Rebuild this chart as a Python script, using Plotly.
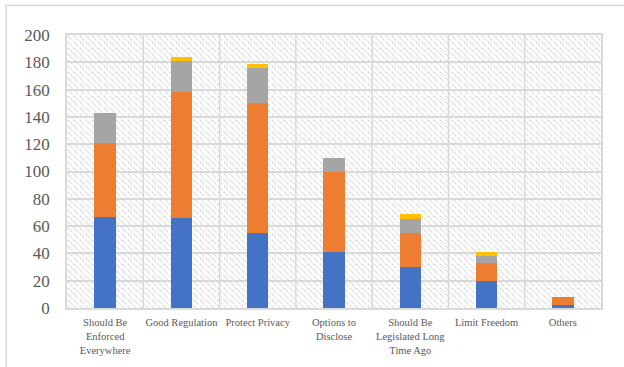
import base64
import plotly.graph_objects as go

categories = ["Should Be<br>Enforced<br>Everywhere", "Good Regulation", "Protect Privacy",
              "Options to<br>Disclose", "Should Be<br>Legislated Long<br>Time Ago",
              "Limit Freedom", "Others"]
series1 = [67, 66, 55, 41, 30, 20, 2]
series2 = [54, 92, 95, 59, 25, 13, 6]
series3 = [22, 23, 26, 10, 10, 5, 0]
series4 = [0, 3, 3, 0, 4, 3, 0]
series_names = ["Series1", "Series2", "Series3", "Series4"]
colors = ["#4472C4", "#ED7D31", "#A5A5A5", "#FFC000"]
y_ticks = [0, 20, 40, 60, 80, 100, 120, 140, 160, 180, 200]

svg = ('<svg xmlns="http://www.w3.org/2000/svg" width="534" height="273">'
       '<defs><pattern id="p" width="6" height="6" patternUnits="userSpaceOnUse">'
       '<path d="M-1,-1 L7,7 M-7,-1 L1,7 M5,-1 L13,7" stroke="#cccccc" stroke-width="1.2" stroke-dasharray="1.5,1"/>'
       '</pattern></defs><rect width="534" height="273" fill="white"/>'
       '<rect width="534" height="273" fill="url(#p)"/></svg>')
img_src = "data:image/svg+xml;base64," + base64.b64encode(svg.encode()).decode()

FONT = "Liberation Serif, Times New Roman, serif"

fig = go.Figure()
for name, vals, col in zip(series_names, [series1, series2, series3, series4], colors):
    fig.add_trace(go.Bar(x=categories, y=vals, name=name, marker=dict(color=col, line=dict(width=0))))

fig.update_layout(
    barmode="stack",
    bargap=0.72,
    width=624, height=367,
    margin=dict(l=67, r=23, t=35, b=59),
    paper_bgcolor="white",
    plot_bgcolor="rgba(0,0,0,0)",
    showlegend=False,
    font=dict(family=FONT, color="#595959"),
    images=[dict(source=img_src, xref="paper", yref="paper", x=0, y=1, sizex=1, sizey=1,
                 sizing="stretch", layer="below")],
    shapes=[dict(type="rect", xref="paper", yref="paper", x0=-0.114, y0=-0.3, x1=1.2, y1=1.108,
                 line=dict(color="#d9d9d9", width=1.5), fillcolor="rgba(0,0,0,0)", layer="below")],
)
fig.update_yaxes(range=[0, 200], tickvals=y_ticks, showgrid=True, gridcolor="#d9d9d9", gridwidth=1.5,
                 showline=True, linecolor="#d9d9d9", linewidth=1.5, mirror=True, zeroline=False,
                 tickfont=dict(family=FONT, size=17, color="#595959"), ticks="", ticklen=0,
                 ticklabelstandoff=12)
fig.update_xaxes(showgrid=False, showline=True, linecolor="#d9d9d9", linewidth=1.5, mirror=True,
                 tickfont=dict(family=FONT, size=10.5, color="#595959"), tickangle=0, ticks="",
                 ticklabelstandoff=4)
for i in range(len(categories) - 1):
    fig.add_vline(x=i + 0.5, line=dict(color="#d9d9d9", width=1.5), layer="below")

fig.write_html("out.html")
